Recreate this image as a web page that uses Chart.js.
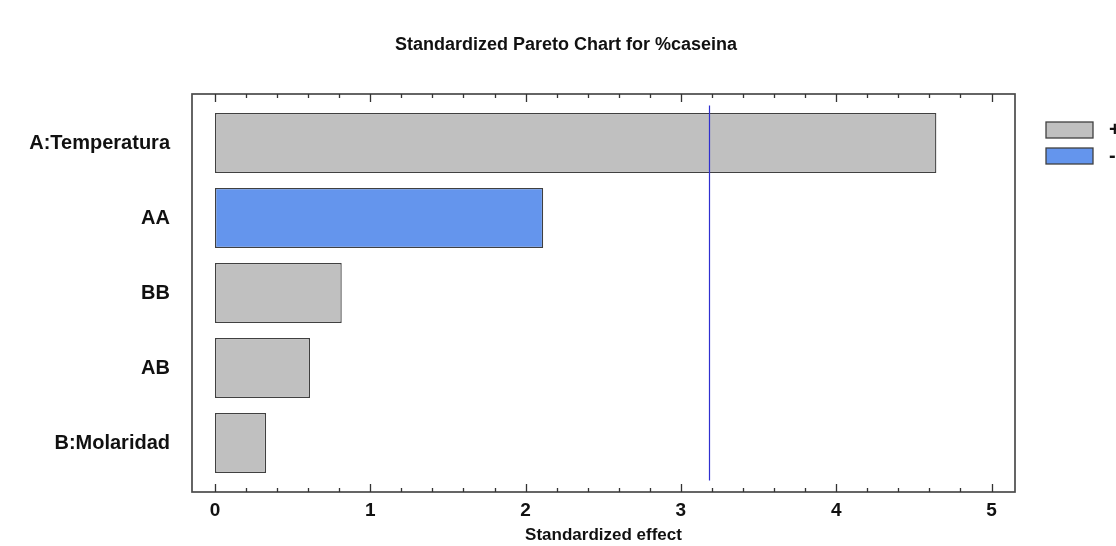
<!DOCTYPE html>
<html>
<head>
<meta charset="utf-8">
<script src="https://cdn.jsdelivr.net/npm/chart.js@4/dist/chart.umd.min.js"></script>
<style>
  html, body { margin: 0; padding: 0; background: #ffffff; }
  #wrap { width: 1116px; height: 546px; position: relative; }
</style>
</head>
<body>
<div id="wrap"><canvas id="pareto" width="1116" height="546"></canvas></div>
<script>
// Effects on %caseina, ordered by size
const categories = ['A:Temperatura', 'AA', 'BB', 'AB', 'B:Molaridad'];
const positiveEffects = [4.645, null, 0.816, 0.612, 0.329];
const negativeEffects = [null, 2.113, null, null, null];
const criticalValue = 3.182;
const xTickValues = [0, 1, 2, 3, 4, 5];
const minorStep = 0.2;
const chartTitle = 'Standardized Pareto Chart for %caseina';

const FONT = '"Liberation Sans", Arial, Helvetica, sans-serif';
const FRAME_PAD = 11.5;

// Title, frame, inner tick marks, significance line and legend
const paretoDecor = {
  id: 'paretoDecor',
  afterDatasetsDraw(chart) {
    const { ctx, chartArea: a, scales: { x } } = chart;
    ctx.save();
    const px = x.getPixelForValue(criticalValue);
    ctx.strokeStyle = '#2f2fd0';
    ctx.lineWidth = 1.2;
    ctx.beginPath();
    ctx.moveTo(Math.round(px) + 0.5, a.top);
    ctx.lineTo(Math.round(px) + 0.5, a.bottom);
    ctx.stroke();
    ctx.restore();
  },
  afterDraw(chart) {
    const { ctx, chartArea: a, scales: { x } } = chart;
    const top = a.top - FRAME_PAD, bottom = a.bottom + FRAME_PAD;
    ctx.save();

    ctx.fillStyle = '#111111';
    ctx.font = 'bold 18px ' + FONT;
    ctx.textAlign = 'center';
    ctx.textBaseline = 'middle';
    ctx.fillText(chartTitle, 566, 45);

    ctx.strokeStyle = '#4a4a4a';
    ctx.lineWidth = 1.7;
    ctx.strokeRect(a.left, top, a.right - a.left, bottom - top);

    ctx.lineWidth = 1.3;
    ctx.strokeStyle = '#333333';
    const last = xTickValues[xTickValues.length - 1];
    for (let v = 0; v <= last + 1e-9; v += minorStep) {
      const val = Math.round(v * 10) / 10;
      const major = Math.abs(val - Math.round(val)) < 1e-6;
      const len = major ? 8 : 4;
      const p = Math.round(x.getPixelForValue(val)) + 0.5;
      ctx.beginPath();
      ctx.moveTo(p, top); ctx.lineTo(p, top + len);
      ctx.moveTo(p, bottom); ctx.lineTo(p, bottom - len);
      ctx.stroke();
    }

    // legend
    const items = chart.data.datasets;
    const bx = a.right + 31;
    items.forEach((ds, i) => {
      const by = 122 + i * 26;
      ctx.fillStyle = ds.backgroundColor;
      ctx.fillRect(bx, by, 47, 16);
      ctx.strokeStyle = '#404040';
      ctx.lineWidth = 1.3;
      ctx.strokeRect(bx, by, 47, 16);
      ctx.fillStyle = '#111111';
      ctx.font = 'bold 20px ' + FONT;
      ctx.textBaseline = 'middle';
      ctx.textAlign = 'left';
      ctx.fillText(ds.label, bx + 63, by + 8);
    });
    ctx.restore();
  }
};

new Chart(document.getElementById('pareto'), {
  type: 'bar',
  data: {
    labels: categories,
    datasets: [
      {
        label: '+',
        data: positiveEffects,
        backgroundColor: '#c0c0c0',
        borderColor: '#404040',
        borderWidth: 1.3,
        borderSkipped: false,
        grouped: false,
        barPercentage: 0.8,
        categoryPercentage: 1.0
      },
      {
        label: '-',
        data: negativeEffects,
        backgroundColor: '#6495ed',
        borderColor: '#404040',
        borderWidth: 1.3,
        borderSkipped: false,
        grouped: false,
        barPercentage: 0.8,
        categoryPercentage: 1.0
      }
    ]
  },
  options: {
    indexAxis: 'y',
    responsive: false,
    animation: false,
    devicePixelRatio: 1,
    layout: { padding: { top: 105.5, right: 101, bottom: 0, left: 0 } },
    plugins: {
      legend: { display: false },
      tooltip: { enabled: false },
      title: { display: false }
    },
    scales: {
      x: {
        type: 'linear',
        min: -0.1481,
        max: 5.1513,
        afterBuildTicks(scale) { scale.ticks = xTickValues.map(v => ({ value: v })); },
        afterFit(scale) { scale.height = 65.5; },
        grid: { display: false, drawTicks: false },
        border: { display: false },
        ticks: {
          color: '#111111',
          padding: 19,
          font: { family: FONT, size: 19, weight: 'bold' },
          callback: v => String(v)
        },
        title: {
          display: true,
          text: 'Standardized effect',
          color: '#111111',
          font: { family: FONT, size: 17, weight: 'bold' },
          padding: { top: 2, bottom: 0 }
        }
      },
      y: {
        type: 'category',
        offset: true,
        afterFit(scale) { scale.width = 192; },
        grid: { display: false, drawTicks: false },
        border: { display: false },
        ticks: {
          color: '#111111',
          padding: 22,
          font: { family: FONT, size: 20, weight: 'bold' }
        }
      }
    }
  },
  plugins: [paretoDecor]
});
</script>
</body>
</html>
